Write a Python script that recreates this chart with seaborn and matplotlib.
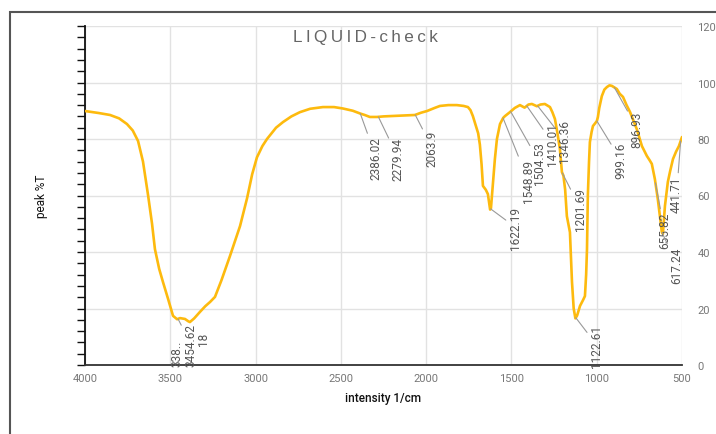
import numpy as np
import pandas as pd
import seaborn as sns
import matplotlib.pyplot as plt
from matplotlib.ticker import MultipleLocator

# spectrum: wavenumber (1/cm) and %T
wavenumber = [4000, 3920, 3853, 3800, 3754, 3720, 3689, 3660, 3630, 3607, 3590, 3565,
              3543, 3513, 3484, 3460, 3443, 3414, 3395, 3385, 3360, 3326, 3295, 3267,
              3238, 3200, 3150, 3091, 3050, 3020, 2992, 2960, 2933, 2880, 2839, 2790,
              2740, 2680, 2605, 2540, 2488, 2430, 2386, 2360, 2330, 2288, 2250, 2212,
              2150, 2066, 2030, 1995, 1950, 1919, 1870, 1820, 1780, 1755, 1740, 1726,
              1710, 1695, 1685, 1675, 1667, 1650, 1638, 1625, 1620, 1610, 1597, 1585,
              1567, 1548, 1538, 1509, 1480, 1450, 1423, 1400, 1380, 1351, 1330, 1304,
              1274, 1260, 1245, 1230, 1216, 1204, 1195, 1185, 1175, 1157, 1145, 1135,
              1125, 1115, 1098, 1080, 1069, 1062, 1057, 1052, 1045, 1040, 1030, 1022,
              1010, 999, 993, 985, 970, 955, 940, 925, 911, 895, 882, 865, 846, 825,
              805, 785, 765, 750, 735, 706, 690, 677, 665, 659, 650, 642, 630, 618,
              612, 605, 600, 590, 583, 570, 553, 535, 518, 500]
transmittance = [89.9, 89.2, 88.5, 87.3, 85.3, 83.0, 79.3, 72.0, 60.0, 50.0, 41.0, 34.0,
                 29.4, 23.4, 17.4, 16.2, 16.6, 16.3, 15.5, 15.2, 16.5, 18.8, 20.8, 22.3,
                 24.1, 30.0, 38.6, 49.2, 59.0, 67.5, 73.5, 77.5, 80.0, 84.0, 86.0, 88.0,
                 89.5, 90.7, 91.3, 91.3, 90.8, 90.0, 89.0, 88.5, 87.8, 87.8, 88.0, 88.1,
                 88.3, 88.5, 89.3, 89.9, 91.0, 91.7, 92.0, 92.0, 91.7, 91.3, 90.2, 88.1,
                 85.0, 82.0, 78.0, 71.0, 63.4, 62.0, 60.5, 55.0, 55.5, 63.0, 72.9, 80.0,
                 85.3, 87.5, 88.1, 89.5, 91.0, 92.0, 91.1, 92.2, 92.4, 91.6, 92.2, 92.4,
                 91.3, 89.5, 87.1, 82.0, 76.5, 68.3, 67.0, 62.0, 52.7, 47.0, 29.4, 20.0,
                 16.5, 17.5, 20.9, 23.0, 24.4, 32.0, 41.0, 60.0, 72.0, 78.9, 82.5, 84.6,
                 85.5, 86.4, 87.8, 91.0, 95.2, 97.5, 98.4, 99.0, 98.8, 98.2, 97.7, 96.0,
                 94.9, 92.0, 89.6, 86.5, 83.5, 80.5, 77.5, 74.0, 72.5, 71.2, 67.5, 65.8,
                 62.0, 58.8, 53.0, 47.0, 46.4, 52.0, 56.3, 61.5, 64.8, 68.5, 72.9, 75.5,
                 77.5, 80.7]

peak_labels = ['3454.62', '2386.02', '2279.94', '2063.9', '1622.19', '1548.89', '1504.53',
               '1410.01', '1346.36', '1201.69', '1122.61', '999.16', '896.93', '655.82',
               '441.71', '617.24']
# where each label sits relative to its peak, in pixels (right, down)
label_offsets = [(13, 4), (16, 23), (20, 20), (17, 15), (25, -3), (25, 41), (29, 30),
                 (26, 16), (27, 13), (18, 14), (21, 6), (24, 21), (23, 23), (9, 29),
                 (-4, 35), (15, 14)]

df = pd.DataFrame({'wavenumber': wavenumber, 'T': transmittance})

sns.set_theme(style='whitegrid')
plt.rcParams['font.family'] = ['Roboto', 'DejaVu Sans']

fig = plt.figure(figsize=(7.16, 4.35), dpi=100)
ax = fig.add_axes([85 / 716, 1 - 366 / 435, 597 / 716, 339 / 435])

sns.lineplot(data=df, x='wavenumber', y='T', sort=False, color='#FDBA0E',
             linewidth=1.9, ax=ax, zorder=3)

ax.set_xlim(4000, 500)
ax.set_ylim(0, 120)
ax.xaxis.set_major_locator(MultipleLocator(500))
ax.yaxis.set_major_locator(MultipleLocator(20))
ax.yaxis.set_minor_locator(MultipleLocator(4))
ax.grid(True, which='major', color='#e2e2e2', linewidth=1.0)
ax.grid(False, which='minor')

for s in ['top', 'right']:
    ax.spines[s].set_visible(False)
ax.spines['left'].set_color('#111111')
ax.spines['left'].set_linewidth(1.3)
ax.spines['bottom'].set_color('#333333')
ax.spines['bottom'].set_linewidth(1.3)

ax.tick_params(axis='y', which='both', left=True, right=False, labelleft=False,
               labelright=True, direction='out', length=6, width=1.0,
               color='#111111', pad=5, labelsize=8, labelcolor='#777777')
ax.tick_params(axis='x', bottom=False, length=0, pad=6, labelsize=8,
               labelcolor='#777777')

ax.set_xlabel('intensity 1/cm', fontsize=8.5, fontweight='medium', color='#111111')
ax.xaxis.set_label_coords(0.5, -0.078)
ax.set_ylabel('peak %T', fontsize=8.5, color='#111111')
ax.yaxis.set_label_coords(-0.062, 0.5)

title = '\u2009'.join('LIQUID-check')
ax.text(0.469, 0.968, title, transform=ax.transAxes, ha='center', va='center',
        fontsize=12.3, color='#666666', family=['Liberation Sans', 'DejaVu Sans'])

# peak labels with leader lines
wn_sorted = np.array(wavenumber[::-1], dtype=float)
t_sorted = np.array(transmittance[::-1], dtype=float)
label_font = dict(family=['Liberation Sans Narrow', 'Roboto'], fontsize=8.5,
                  color='#555555')
for lab, (dx, dy) in zip(peak_labels, label_offsets):
    w = max(float(lab), 508)
    t = np.interp(w, wn_sorted, t_sorted)
    ax.annotate(lab, xy=(w, t), xytext=(dx, -dy), textcoords='offset pixels',
                rotation=90, ha='center', va='top', **label_font,
                arrowprops=dict(arrowstyle='-', color='#999999', lw=0.8,
                                shrinkA=0, shrinkB=0), zorder=4)

# the crowded label beside 3454.62
t0 = np.interp(3384.18, wn_sorted, t_sorted)
ax.annotate('338..', xy=(3384.18, t0), xytext=(-13, -18), textcoords='offset pixels',
            rotation=90, ha='center', va='top', **label_font)
ax.annotate('18', xy=(3384.18, t0), xytext=(13, -10), textcoords='offset pixels',
            rotation=90, ha='center', va='top', **label_font)

# outer frame around the chart
fig.add_artist(plt.Rectangle((10 / 716, -0.2), 1.2, 1.2 - 13 / 435,
                             transform=fig.transFigure, fill=False,
                             edgecolor='#555555', linewidth=1.5))

fig.savefig('out.png', dpi=100)
